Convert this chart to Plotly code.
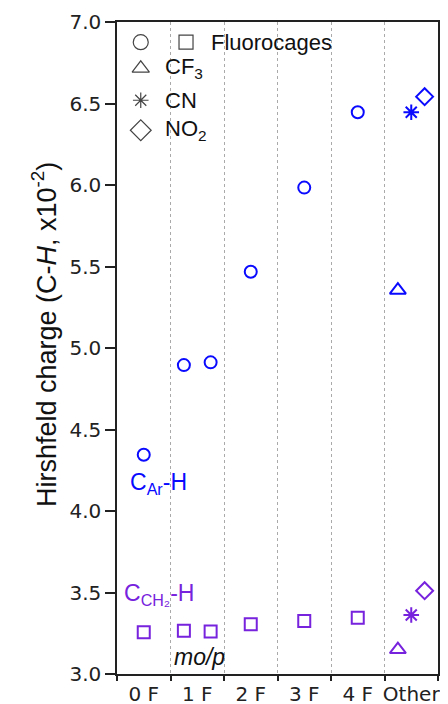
import plotly.graph_objects as go

# ---- data ----
categories = ["0 F", "1 F", "2 F", "3 F", "4 F", "Other"]
cat_centers = [0.5, 1.5, 2.5, 3.5, 4.5, 5.5]
cat_bounds = [0, 1, 2, 3, 4, 5, 6]

# C_Ar-H (blue)
ar_cage_x = [0.5, 1.25, 1.75, 2.5, 3.5, 4.5]
ar_cage_y = [4.345, 4.895, 4.912, 5.468, 5.984, 6.446]
ar_cf3_x = [5.25]
ar_cf3_y = [5.355]
ar_cn_x = [5.5]
ar_cn_y = [6.446]
ar_no2_x = [5.75]
ar_no2_y = [6.542]

# C_CH2-H (purple)
ch2_cage_x = [0.5, 1.25, 1.75, 2.5, 3.5, 4.5]
ch2_cage_y = [3.256, 3.266, 3.260, 3.305, 3.325, 3.345]
ch2_cf3_x = [5.25]
ch2_cf3_y = [3.150]
ch2_cn_x = [5.5]
ch2_cn_y = [3.362]
ch2_no2_x = [5.75]
ch2_no2_y = [3.511]

y_ticks = [3.0, 3.5, 4.0, 4.5, 5.0, 5.5, 6.0, 6.5, 7.0]

BLUE = "#0a0aff"
PURPLE = "#7722dd"
GRAY = "#444444"

fig = go.Figure()

def add(x, y, sym, size, color):
    fig.add_trace(go.Scatter(
        x=x, y=y, mode="markers", showlegend=False, hoverinfo="skip",
        marker=dict(symbol=sym, size=size, color=color,
                    line=dict(color=color, width=2))))

add(ar_cage_x, ar_cage_y, "circle-open", 12, BLUE)
add(ar_cf3_x, ar_cf3_y, "triangle-up-open", 14, BLUE)
add(ar_cn_x, ar_cn_y, "asterisk-open", 13, BLUE)
add(ar_no2_x, ar_no2_y, "diamond-open", 13, BLUE)
add(ch2_cage_x, ch2_cage_y, "square-open", 12, PURPLE)
add(ch2_cf3_x, ch2_cf3_y, "triangle-up-open", 14, PURPLE)
add(ch2_cn_x, ch2_cn_y, "asterisk-open", 13, PURPLE)
add(ch2_no2_x, ch2_no2_y, "diamond-open", 13, PURPLE)

# ---- key (drawn on hidden overlay axes in 0..1 units) ----
key_x = [0.074, 0.215, 0.074, 0.074, 0.074]
key_y = [0.969, 0.969, 0.929, 0.880, 0.834]
key_sym = ["circle-open", "square-open", "triangle-up-open", "asterisk-open", "diamond-open"]
key_size = [15, 14, 15, 13, 16]
for kx, ky, ks, kz in zip(key_x, key_y, key_sym, key_size):
    fig.add_trace(go.Scatter(
        x=[kx], y=[ky], xaxis="x2", yaxis="y2", mode="markers",
        showlegend=False, hoverinfo="skip",
        marker=dict(symbol=ks, size=kz, color=GRAY,
                    line=dict(color=GRAY, width=1.2))))

key_labels = ["Fluorocages", "CF<sub>3</sub>", "CN", "NO<sub>2</sub>"]
key_lx = [0.288, 0.144, 0.144, 0.144]
key_ly = [0.969, 0.929, 0.880, 0.834]
SANS = "Liberation Sans, Arial, sans-serif"
for t, lx, ly in zip(key_labels, key_lx, key_ly):
    fig.add_annotation(text=t, x=lx, y=ly, xref="x2", yref="y2",
                       xanchor="left", yanchor="middle", showarrow=False,
                       font=dict(family=SANS, size=22, color="#111111"))

# series labels
fig.add_annotation(text="C<sub>Ar</sub>-H", x=0.2, y=4.166, xref="x", yref="y",
                   xanchor="left", yanchor="middle", showarrow=False,
                   font=dict(family=SANS, size=23, color=BLUE))
fig.add_annotation(text="C<sub>CH\u2082</sub>-H", x=0.09, y=3.485, xref="x", yref="y",
                   xanchor="left", yanchor="middle", showarrow=False,
                   font=dict(family=SANS, size=23, color=PURPLE))
fig.add_annotation(text="<i>mo/p</i>", x=1.02, y=3.104, xref="x", yref="y",
                   xanchor="left", yanchor="middle", showarrow=False,
                   font=dict(family=SANS, size=23, color="#111111"))

# y-axis title
fig.add_annotation(text="Hirshfeld charge (C-<i>H</i>, x10<sup>-2</sup>)",
                   x=-0.227, y=0.52, xref="paper", yref="paper",
                   xanchor="center", yanchor="middle", textangle=-90,
                   showarrow=False,
                   font=dict(family=SANS, size=27, color="#111111"))

TICKFONT = dict(family="DejaVu Sans, Verdana, sans-serif", size=20, color="#222222")

# the page body has an 8px margin and the visible width ends near x=440
fig.update_layout(
    width=440, height=696,
    margin=dict(l=109, r=10, t=14, b=30, autoexpand=False),
    paper_bgcolor="white", plot_bgcolor="white",
    showlegend=False,
    xaxis=dict(
        range=[0, 6], tickmode="array", tickvals=cat_centers, ticktext=categories,
        ticks="outside", ticklen=1, tickcolor="rgba(0,0,0,0)",
        tickfont=TICKFONT, showgrid=False, zeroline=False, automargin=False,
        showline=True, linecolor="#222222", linewidth=1.5, mirror=True,
        minor=dict(tickmode="array", tickvals=cat_bounds, ticks="outside",
                   ticklen=5, tickcolor="#222222", tickwidth=1.5,
                   showgrid=True, gridcolor="#aaaaaa", griddash="dot", gridwidth=1),
    ),
    yaxis=dict(
        range=[3, 7], tickmode="array", tickvals=y_ticks,
        tickformat=".1f", ticks="outside", ticklen=10, tickwidth=1.5,
        tickcolor="#222222", tickfont=TICKFONT, showgrid=False, zeroline=False,
        automargin=False,
        showline=True, linecolor="#222222", linewidth=1.5, mirror=True,
    ),
    xaxis2=dict(range=[0, 1], overlaying="x", visible=False),
    yaxis2=dict(range=[0, 1], overlaying="y", visible=False),
)

fig.write_html("out.html")
